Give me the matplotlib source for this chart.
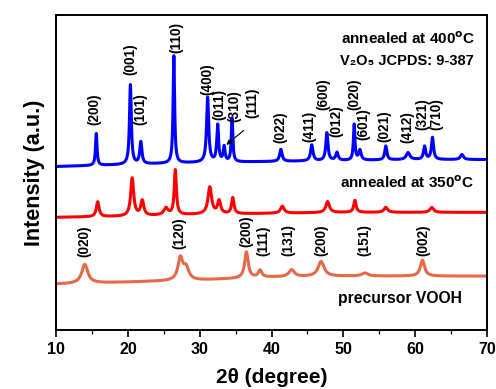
import numpy as np
import matplotlib
matplotlib.use('Agg')
import matplotlib.pyplot as plt

# peak lists: position (2theta), height, FWHM
blue_pos = [15.6, 20.35, 21.8, 26.4, 31.1, 32.5, 33.4, 34.5, 41.3, 45.6, 47.7, 49.1, 51.5, 52.3, 55.9, 59.0, 61.3, 62.4, 66.5]
blue_h   = [32, 80, 22, 108, 65, 37, 15, 44, 12, 16, 28, 8, 36, 10, 14, 7, 13, 22, 5]
blue_w   = [0.25, 0.3, 0.35, 0.25, 0.35, 0.3, 0.3, 0.25, 0.4, 0.4, 0.35, 0.4, 0.25, 0.4, 0.35, 0.6, 0.35, 0.35, 0.5]
blue_bx  = [10, 20, 30, 40, 50, 60, 70]
blue_by  = [164, 166, 168, 169, 170, 171, 171]

red_pos = [15.8, 20.6, 22.0, 25.3, 26.6, 31.4, 32.7, 34.6, 41.5, 47.8, 51.6, 55.9, 62.3]
red_h   = [15, 38, 15, 7, 45, 27, 13, 16, 7, 11, 12, 5, 5]
red_w   = [0.45, 0.5, 0.5, 0.7, 0.35, 0.6, 0.5, 0.4, 0.6, 0.6, 0.4, 0.6, 0.6]
red_bx  = [10, 20, 30, 40, 50, 60, 70]
red_by  = [113, 114, 116, 117, 118, 118, 118]

org_pos = [14.0, 27.3, 28.1, 36.5, 38.4, 42.8, 46.9, 53.0, 61.0]
org_h   = [19, 22, 12, 26, 7, 7, 15, 3, 16]
org_w   = [1.0, 0.8, 0.9, 0.6, 0.6, 0.9, 1.0, 1.0, 0.7]
org_bx  = [10, 20, 30, 40, 50, 60, 70]
org_by  = [46, 48, 50, 53, 54, 54, 54]

blue_lab = ['(200)', '(001)', '(101)', '(110)', '(400)', '(011)', '(310)', '(111)', '(022)',
            '(411)', '(600)', '(012)', '(020)', '(601)', '(021)', '(412)', '(321)', '(710)']
blue_lx  = [15.4, 20.3, 21.8, 26.7, 31.0, 32.7, 34.8, 37.3, 41.2, 45.2, 47.2, 49.0, 51.5, 52.8, 55.7, 58.9, 61.0, 62.9]
blue_ly  = [206, 256, 206, 278, 236, 211, 209, 213, 188, 189, 221, 194, 221, 191, 189, 188, 201, 201]

org_lab = ['(020)', '(120)', '(200)', '(111)', '(131)', '(200)', '(151)', '(002)']
org_lx  = [13.9, 27.1, 36.5, 38.8, 42.3, 47.0, 52.9, 61.1]
org_ly  = [73, 81, 83, 74, 74, 74, 74, 74]

x = np.linspace(10, 70, 3000)

def pattern(pos, h, w, bx, by):
    y = np.interp(x, bx, by)
    for p, a, fw in zip(pos, h, w):
        g = (fw / 2) ** 2
        y = y + a * g / ((x - p) ** 2 + g)
    return y

plt.rcParams['font.family'] = ['Liberation Sans', 'DejaVu Sans']
plt.rcParams['font.weight'] = 'bold'
plt.rcParams['mathtext.default'] = 'bf'

fig = plt.figure(figsize=(4.96, 3.89), dpi=100)
ax = fig.add_axes([0.113, 0.152, 0.869, 0.809])

ax.plot(x, pattern(org_pos, org_h, org_w, org_bx, org_by), color='#e8684a', lw=2.2)
ax.plot(x, pattern(red_pos, red_h, red_w, red_bx, red_by), color='#ff0000', lw=2.2)
ax.plot(x, pattern(blue_pos, blue_h, blue_w, blue_bx, blue_by), color='#0000ff', lw=2.2)

for t, lx, ly in zip(blue_lab, blue_lx, blue_ly):
    ax.text(lx, ly, t, rotation=90, ha='center', va='bottom', fontsize=9.8, fontweight='bold')
for t, lx, ly in zip(org_lab, org_lx, org_ly):
    ax.text(lx, ly, t, rotation=90, ha='center', va='bottom', fontsize=9.8, fontweight='bold')

ax.annotate('', xy=(33.4, 184), xytext=(36.4, 202),
            arrowprops=dict(arrowstyle='-|>', color='black', lw=0.8, mutation_scale=7))

ax.text(68.3, 292, 'annealed at 400$^{\\rm o}$C', ha='right', va='center', fontsize=11, fontweight='bold')
ax.text(68.2, 270, 'V\u2082O\u2085 JCPDS: 9-387', ha='right', va='center', fontsize=10.5, fontweight='bold')
ax.text(68.2, 148, 'annealed at 350$^{\\rm o}$C', ha='right', va='center', fontsize=11, fontweight='bold')
ax.text(66.5, 32, 'precursor VOOH', ha='right', va='center', fontsize=11.3, fontweight='bold')

ax.set_xlim(10, 70)
ax.set_ylim(0, 316)
ax.set_yticks([])
ax.set_xticks(range(10, 71, 10))
ax.set_xticks(range(15, 70, 10), minor=True)
ax.tick_params(axis='x', which='major', direction='out', length=5, width=1.2, labelsize=11.5)
ax.tick_params(axis='x', which='minor', direction='out', length=3, width=1.0)
for lab in ax.get_xticklabels():
    lab.set_fontweight('bold')
for s in ax.spines.values():
    s.set_linewidth(1.4)

ax.set_xlabel('2\u03b8 (degree)', fontsize=15, fontweight='bold', labelpad=8)
ax.set_ylabel('Intensity (a.u.)', fontsize=15.5, fontweight='bold', labelpad=8)

plt.savefig('out.png', dpi=100)
